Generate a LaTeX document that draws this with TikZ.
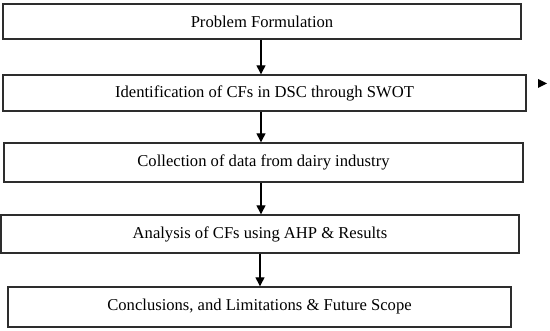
\documentclass[tikz,border=0pt]{standalone}
\usepackage{fontspec}
\setmainfont{Liberation Serif}
\usepackage{tikz}
\usetikzlibrary{arrows.meta,positioning}
\definecolor{boxgray}{RGB}{45,45,45}

\begin{document}
\begin{tikzpicture}[x=1pt,y=-1pt,>=Triangle,
  stage/.style={draw=boxgray,line width=1.4pt,inner sep=0pt,fill=white,
    font=\fontsize{16.6}{18}\selectfont},
  flow/.style={->,line width=1.3pt,>={Triangle[width=9pt,length=9pt]}}]
\useasboundingbox (0,0) rectangle (550,331);
\node[stage,minimum width=518pt,minimum height=35pt] (formulation) at (262,21.5) {Problem Formulation};
\node[stage,minimum width=523pt,minimum height=36pt] (swot) at (264.5,93) {Identification of CFs in DSC through SWOT};
\node[stage,minimum width=519pt,minimum height=39pt] (collection) at (263.5,162.5) {Collection of data from dairy industry};
\node[stage,minimum width=518pt,minimum height=38pt] (analysis) at (260,234) {Analysis of CFs using AHP \& Results};
\node[stage,minimum width=503pt,minimum height=40pt] (conclusions) at (259.5,307) {Conclusions, and Limitations \& Future Scope};
% connectors
\coordinate (spine) at (261,0);
\draw[flow] (formulation.south -| spine) -- (swot.north -| spine);
\draw[flow] (swot.south -| spine) -- (collection.north -| spine);
\draw[flow] (collection.south -| spine) -- (analysis.north -| spine);
\draw[flow] (analysis.south) -- (analysis.south |- conclusions.north);
% stray tip right of the second stage
\coordinate (tip) at (547,83.5);
\fill (tip) -- ++(-9,-4.5) -- ++(0,9) -- cycle;
\end{tikzpicture}
\end{document}
